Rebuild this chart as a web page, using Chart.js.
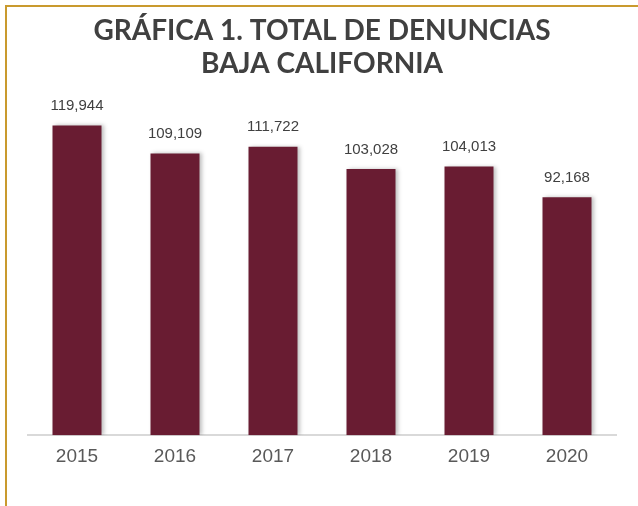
<!DOCTYPE html>
<html>
<head>
<meta charset="utf-8">
<script src="https://cdn.jsdelivr.net/npm/chart.js@4"></script>
<style>
  html, body { margin: 0; padding: 0; background: #fff; width: 638px; height: 506px; overflow: hidden; }
  #frame { position: absolute; left: 5px; top: 5px; width: 700px; height: 600px;
           border-top: 2px solid #c99a2e; border-left: 2px solid #c99a2e; }
  #chart { position: absolute; left: 0; top: 0; }
</style>
</head>
<body>
<div id="frame"></div>
<canvas id="chart" width="638" height="506"></canvas>
<script>
const years = ["2015", "2016", "2017", "2018", "2019", "2020"];
const denuncias = [119944, 109109, 111722, 103028, 104013, 92168];
const titleLines = ["GRÁFICA 1. TOTAL DE DENUNCIAS", "BAJA CALIFORNIA"];

// numbers above each bar
const barLabels = {
  id: "barLabels",
  afterDatasetsDraw(chart) {
    const ctx = chart.ctx;
    const meta = chart.getDatasetMeta(0);
    ctx.save();
    ctx.font = "15px 'Liberation Sans', Arial, sans-serif";
    ctx.fillStyle = "#404040";
    ctx.textAlign = "center";
    ctx.textBaseline = "bottom";
    meta.data.forEach((bar, i) => {
      ctx.fillText(denuncias[i].toLocaleString("en-US"), bar.x, bar.y - 12);
    });
    ctx.restore();
  }
};

// soft shadow on bars
const barShadow = {
  id: "barShadow",
  beforeDatasetsDraw(chart) {
    const ctx = chart.ctx;
    ctx.save();
    ctx.shadowColor = "rgba(0,0,0,0.25)";
    ctx.shadowBlur = 4;
    ctx.shadowOffsetX = 2;
    ctx.shadowOffsetY = 0;
  },
  afterDatasetsDraw(chart) {
    chart.ctx.restore();
  }
};

new Chart(document.getElementById("chart"), {
  type: "bar",
  data: {
    labels: years,
    datasets: [{
      data: denuncias,
      backgroundColor: "#691c32",
      categoryPercentage: 1,
      barPercentage: 0.5
    }]
  },
  options: {
    responsive: false,
    animation: false,
    layout: { padding: { top: 14, left: 28, right: 22, bottom: 28 } },
    plugins: {
      legend: { display: false },
      tooltip: { enabled: false },
      title: {
        display: true,
        text: titleLines,
        color: "#404040",
        font: { family: "Lato, 'Open Sans', sans-serif", size: 28, weight: "bold", lineHeight: 1.18 },
        padding: { top: 0, bottom: 0 }
      }
    },
    scales: {
      x: {
        grid: { display: false, drawTicks: false },
        border: { color: "#d9d9d9", width: 2 },
        ticks: { color: "#595959", padding: 10, font: { family: "'Liberation Sans', Arial, sans-serif", size: 19 } }
      },
      y: {
        display: false,
        min: 0,
        max: 137500
      }
    }
  },
  plugins: [barShadow, barLabels]
});
</script>
</body>
</html>
